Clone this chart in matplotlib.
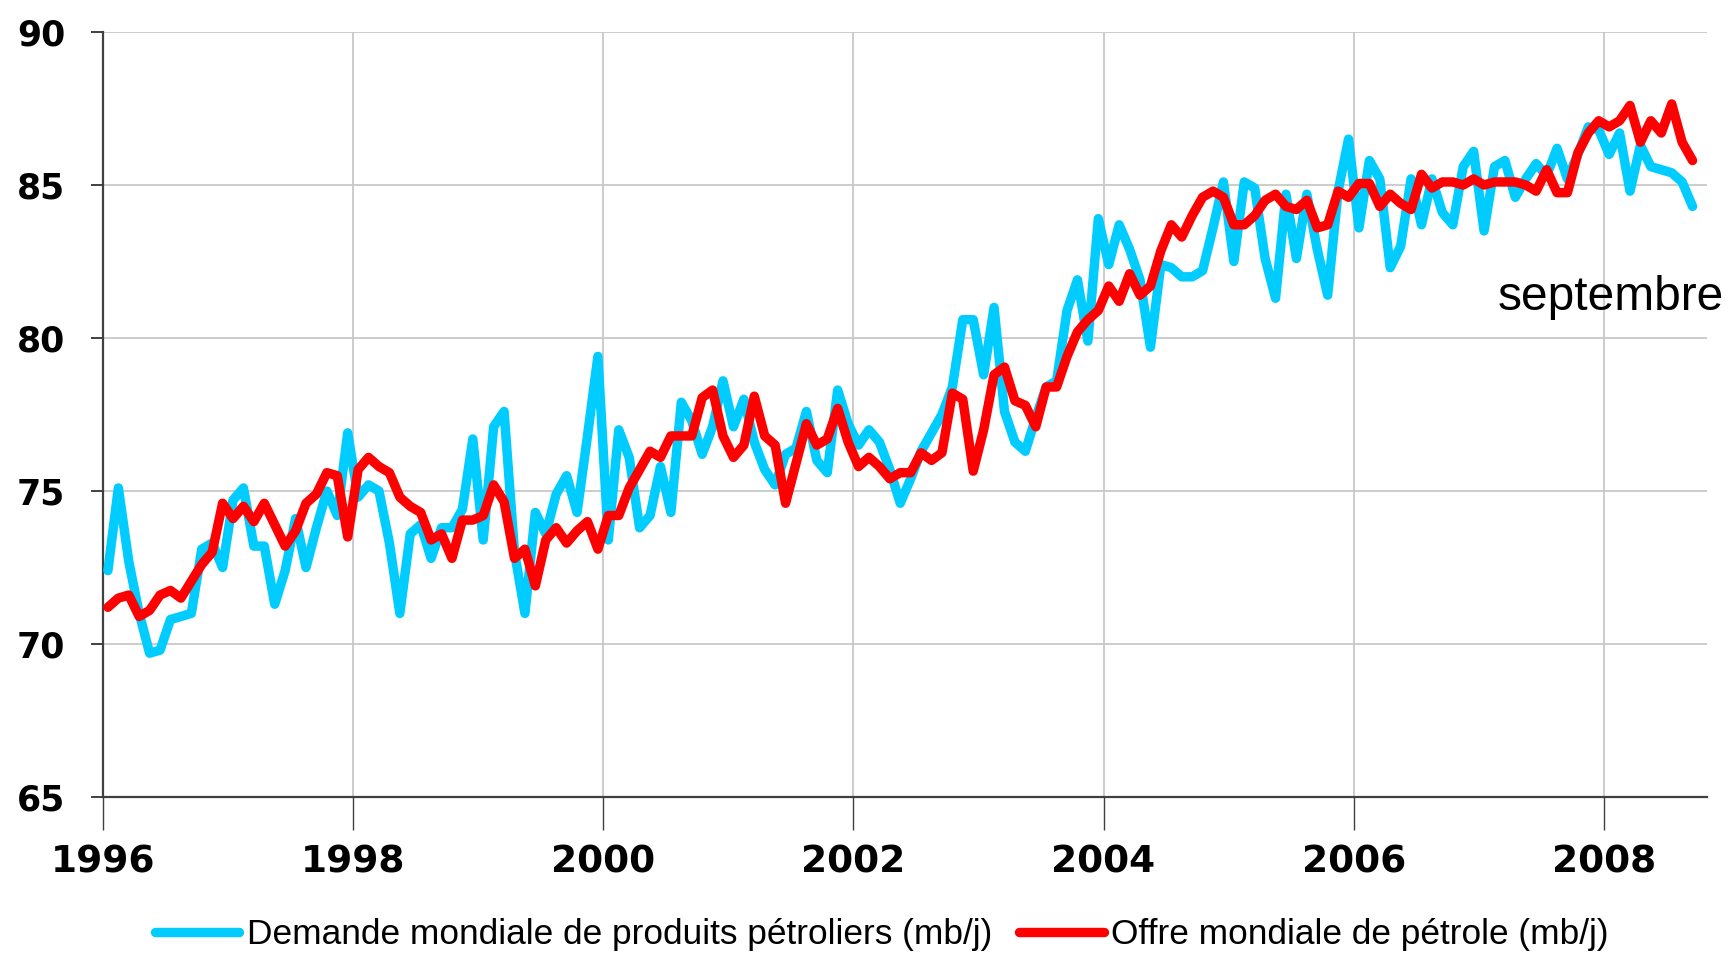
import numpy as np
import matplotlib
matplotlib.use("Agg")
import matplotlib.pyplot as plt

# Monthly data, Jan 1996 .. Sep 2008
start_year = 1996
demande = [
    # 1996
    72.4, 75.1, 72.7, 71.0, 69.7, 69.8, 70.8, 70.9, 71.0, 73.1, 73.3, 72.5,
    # 1997
    74.7, 75.1, 73.2, 73.2, 71.3, 72.4, 74.1, 72.5, 73.8, 75.0, 74.2, 76.9,
    # 1998
    74.8, 75.2, 75.0, 73.3, 71.0, 73.6, 73.9, 72.8, 73.8, 73.8, 74.4, 76.7,
    # 1999
    73.4, 77.1, 77.6, 73.0, 71.0, 74.3, 73.6, 74.9, 75.5, 74.3, 76.8, 79.4,
    # 2000
    73.4, 77.0, 76.1, 73.8, 74.2, 75.8, 74.3, 77.9, 77.3, 76.2, 77.1, 78.6,
    # 2001
    77.1, 78.0, 76.6, 75.7, 75.2, 76.2, 76.4, 77.6, 76.0, 75.6, 78.3, 77.2,
    # 2002
    76.5, 77.0, 76.6, 75.7, 74.6, 75.4, 76.3, 76.9, 77.5, 78.4, 80.6, 80.6,
    # 2003
    78.8, 81.0, 77.6, 76.6, 76.3, 77.4, 78.4, 78.6, 80.9, 81.9, 79.9, 83.9,
    # 2004
    82.4, 83.7, 82.9, 81.9, 79.7, 82.4, 82.3, 82.0, 82.0, 82.2, 83.6, 85.1,
    # 2005
    82.5, 85.1, 84.9, 82.6, 81.3, 84.7, 82.6, 84.7, 82.9, 81.4, 84.8, 86.5,
    # 2006
    83.6, 85.8, 85.2, 82.3, 83.0, 85.2, 83.7, 85.2, 84.1, 83.7, 85.6, 86.1,
    # 2007
    83.5, 85.6, 85.8, 84.6, 85.2, 85.7, 85.3, 86.2, 85.2, 86.0, 86.9, 86.8,
    # 2008
    86.0, 86.7, 84.8, 86.3, 85.6, 85.5, 85.4, 85.1, 84.3,
]
offre = [
    # 1996
    71.2, 71.5, 71.6, 70.9, 71.1, 71.6, 71.75, 71.5, 72.05, 72.6, 73.0, 74.6,
    # 1997
    74.1, 74.5, 74.0, 74.6, 73.9, 73.2, 73.7, 74.6, 74.9, 75.6, 75.5, 73.5,
    # 1998
    75.7, 76.1, 75.8, 75.6, 74.8, 74.5, 74.3, 73.4, 73.6, 72.8, 74.05, 74.05,
    # 1999
    74.2, 75.2, 74.65, 72.8, 73.1, 71.9, 73.4, 73.8, 73.3, 73.7, 74.0, 73.1,
    # 2000
    74.2, 74.2, 75.1, 75.7, 76.3, 76.1, 76.8, 76.8, 76.8, 78.05, 78.3, 76.8,
    # 2001
    76.1, 76.5, 78.1, 76.8, 76.5, 74.6, 75.9, 77.2, 76.5, 76.7, 77.7, 76.6,
    # 2002
    75.8, 76.1, 75.8, 75.4, 75.6, 75.6, 76.25, 76.0, 76.25, 78.2, 78.0, 75.65,
    # 2003
    77.0, 78.8, 79.05, 77.95, 77.8, 77.1, 78.4, 78.4, 79.4, 80.2, 80.6, 80.9,
    # 2004
    81.7, 81.2, 82.1, 81.4, 81.7, 82.85, 83.7, 83.3, 84.0, 84.6, 84.8, 84.6,
    # 2005
    83.7, 83.7, 84.0, 84.5, 84.7, 84.3, 84.2, 84.5, 83.6, 83.7, 84.8, 84.6,
    # 2006
    85.05, 85.05, 84.3, 84.7, 84.4, 84.2, 85.35, 84.9, 85.1, 85.1, 85.0, 85.2,
    # 2007
    85.0, 85.1, 85.1, 85.1, 85.0, 84.8, 85.5, 84.75, 84.75, 86.05, 86.7, 87.1,
    # 2008
    86.9, 87.1, 87.6, 86.4, 87.1, 86.7, 87.65, 86.4, 85.8,
]
label_demande = "Demande mondiale de produits pétroliers (mb/j)"
label_offre = "Offre mondiale de pétrole (mb/j)"
annotation = "septembre"
year_ticks = [1996, 1998, 2000, 2002, 2004, 2006, 2008]
y_ticks = [65, 70, 75, 80, 85, 90]

# month centres as fractional years
x = start_year + (np.arange(len(demande)) + 0.5) / 12.0

fig = plt.figure(figsize=(17.29, 9.56), dpi=100)
ax = fig.add_axes([0.0594, 0.1663, 0.9276, 0.8002])

ax.plot(x, demande, color="#00CCFF", lw=6.8, solid_joinstyle="round",
        solid_capstyle="round", label=label_demande, zorder=3)
ax.plot(x, offre, color="#FF0000", lw=6.8, solid_joinstyle="round",
        solid_capstyle="round", label=label_offre, zorder=4)

ax.set_xlim(1996, 2008.82)
ax.set_ylim(65, 90)
ax.set_xticks(year_ticks)
ax.set_xticklabels([str(y) for y in year_ticks])
ax.set_yticks(y_ticks)
ax.set_yticklabels([str(v) for v in y_ticks])

ax.grid(True, color="#C8C8C8", lw=1.3)
ax.set_axisbelow(True)
for s in ["top", "right"]:
    ax.spines[s].set_visible(False)
for s in ["left", "bottom"]:
    ax.spines[s].set_color("#404040")
    ax.spines[s].set_linewidth(1.6)

ax.tick_params(axis="y", direction="out", length=9, width=1.4, color="#404040",
               pad=18, labelsize=25)
ax.tick_params(axis="x", direction="out", length=24, width=1.0, color="#404040",
               pad=10, labelsize=27)
for lab in ax.get_xticklabels() + ax.get_yticklabels():
    lab.set_fontweight("bold")
    lab.set_family("DejaVu Sans")

fig.text(0.866, 0.676, annotation, fontsize=34.5, family="Liberation Sans",
         ha="left", va="baseline")

fig.legend(loc="center", bbox_to_anchor=(0.51, 0.022), ncol=2, frameon=False,
           prop={"family": "Liberation Sans", "size": 25.4},
           handlelength=2.4, handletextpad=0.22, columnspacing=0.75,
           borderaxespad=0, borderpad=0)

fig.savefig("out.png", dpi=100)
